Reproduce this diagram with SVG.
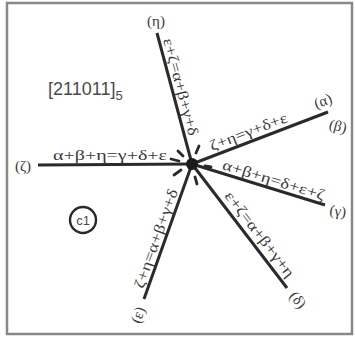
<svg xmlns="http://www.w3.org/2000/svg" width="355" height="337" viewBox="0 0 355 337">
<style>
.ray{stroke:#2a2a2a;stroke-width:3;fill:none;stroke-linecap:butt}
.dash{stroke:#2a2a2a;stroke-width:2.8;stroke-linecap:round}
.lbl{font-family:"Liberation Serif","DejaVu Serif",serif;font-size:15px;fill:#3a3a3a;text-anchor:middle}
.end{font-family:"Liberation Serif","DejaVu Serif",serif;font-size:15px;fill:#3a3a3a;text-anchor:middle;dominant-baseline:central}
.sans{font-family:"Liberation Sans",Arial,sans-serif;fill:#4a4a4a}
</style>
<rect x="7" y="3" width="345" height="331" fill="#fff" stroke="#888" stroke-width="2.5"/>
<g id="title">
<text class="sans" x="48" y="95" font-size="18">[211011]<tspan font-size="13" dy="5">5</tspan></text>
</g>
<g id="c1">
<circle cx="83" cy="220" r="13" fill="none" stroke="#2a2a2a" stroke-width="2.4"/>
<text class="sans" x="83" y="224.5" font-size="13" text-anchor="middle" fill="#333">c1</text>
</g>
<g id="connectors">
<line class="ray" x1="192" y1="164" x2="157" y2="33"/>
<line class="ray" x1="192" y1="164" x2="328" y2="112"/>
<line class="ray" x1="192" y1="164" x2="38" y2="165"/>
<line class="ray" x1="192" y1="164" x2="325" y2="205"/>
<line class="ray" x1="192" y1="164" x2="287" y2="288"/>
<line class="ray" x1="192" y1="164" x2="144" y2="299"/>
</g>
<g id="center">
<circle cx="192" cy="164" r="6" fill="#1a1a1a"/>
<line class="dash" x1="183" y1="156" x2="178" y2="151"/>
<line class="dash" x1="196" y1="153" x2="199" y2="146"/>
<line class="dash" x1="179" y1="161" x2="171" y2="159"/>
<line class="dash" x1="181" y1="170" x2="174" y2="175"/>
<line class="dash" x1="195" y1="177" x2="197" y2="184"/>
<line class="dash" x1="205" y1="166" x2="211" y2="167"/>
</g>
<g id="ray-eta">
<text class="lbl" transform="translate(172,89) rotate(75)" y="-4" textLength="100" lengthAdjust="spacingAndGlyphs">ε+ζ=α+β+γ+δ</text>
<text class="end" x="156" y="21">(η)</text>
</g>
<g id="ray-alpha">
<text class="lbl" transform="translate(252,141) rotate(-20.9)" y="-5" textLength="82" lengthAdjust="spacingAndGlyphs">ζ+η=γ+δ+ε</text>
<text class="end" transform="translate(323,101) rotate(-20)">(α)</text>
<text class="end" transform="translate(338,126) rotate(15)">(β)</text>
</g>
<g id="ray-zeta">
<text class="lbl" x="110" y="160" textLength="114" lengthAdjust="spacingAndGlyphs">α+β+η=γ+δ+ε</text>
<text class="end" x="23" y="166">(ζ)</text>
</g>
<g id="ray-gamma">
<text class="lbl" transform="translate(271,188.5) rotate(17.1)" y="-4" textLength="106" lengthAdjust="spacingAndGlyphs">α+β+η=δ+ε+ζ</text>
<text class="end" transform="translate(338,211) rotate(8)">(γ)</text>
</g>
<g id="ray-delta">
<text class="lbl" transform="translate(251,241) rotate(52.5)" y="-6" textLength="104" lengthAdjust="spacingAndGlyphs">ε+ζ=α+β+γ+η</text>
<text class="end" transform="translate(298,300) rotate(52)">(δ)</text>
</g>
<g id="ray-epsilon">
<text class="lbl" transform="translate(164.4,241.5) rotate(-70.4)" y="-4" textLength="104" lengthAdjust="spacingAndGlyphs">ζ+η=α+β+γ+δ</text>
<text class="end" transform="translate(138,315) rotate(-70)">(ε)</text>
</g>
</svg>
